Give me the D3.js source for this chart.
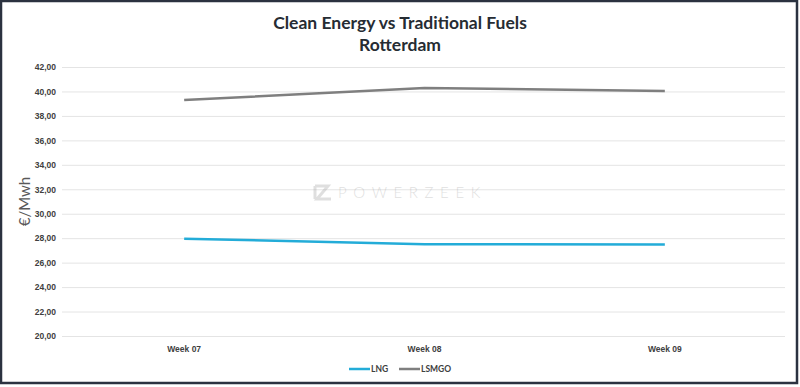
<!DOCTYPE html>
<head>
    <script src="https://d3js.org/d3.v7.min.js"></script>
    <style>
        body {margin: 0; background: #fff;}
        svg {display: block; font-family: Lato, "Open Sans", sans-serif;}
        .tick text {font-size: 8.5px; font-weight: bold; fill: #404040;}
    </style>
</head>
<body>
</body>
<script>
  const weeks = ["Week 07", "Week 08", "Week 09"],
        lng = [27.96, 27.5, 27.49],
        lsmgo = [39.3, 40.28, 40.03],
        yTicks = d3.range(20, 42.01, 2);

  const width = 800,
        height = 387,
        margin = {top: 67, right: 15, bottom: 51, left: 64};

  const svg = d3.select("body").append("svg")
          .attr("width", width)
          .attr("height", height);

  svg.append("rect")
    .attr("x", 1).attr("y", 1)
    .attr("width", width - 4).attr("height", height - 5)
    .attr("fill", "#fff")
    .attr("stroke", "#2b3240")
    .attr("stroke-width", 2.5);

  const x = d3.scaleBand()
          .domain(weeks)
          .range([margin.left, width - margin.right]);

  const y = d3.scaleLinear()
          .domain([20, 42])
          .range([height - margin.bottom, margin.top]);

  // grid + y labels
  const yAxis = svg.append("g")
          .attr("transform", `translate(${ margin.left - 2 },0)`)
          .call(d3.axisLeft(y).tickValues(yTicks)
            .tickSize(-(width - margin.right - margin.left + 2))
            .tickPadding(6)
            .tickFormat(d => d3.format(".2f")(d).replace(".", ",")));
  yAxis.select(".domain").remove();
  yAxis.selectAll(".tick line").attr("stroke", "#e4e4e4");

  const xAxis = svg.append("g")
          .attr("transform", `translate(0,${ height - margin.bottom })`)
          .call(d3.axisBottom(x).tickSize(0).tickPadding(10));
  xAxis.select(".domain").remove();

  svg.append("text")
    .attr("transform", `translate(30,${ y(31) }) rotate(-90)`)
    .attr("text-anchor", "middle")
    .attr("font-size", 15)
    .attr("fill", "#595959")
    .text("€/Mwh");

  // watermark
  const wm = svg.append("g").attr("transform", `translate(314,192)`).attr("opacity", 0.3);
  wm.append("path")
    .attr("d", "M1,-6 h13 l-11,13 h14 M1,-6 v13")
    .attr("fill", "none").attr("stroke", "#999").attr("stroke-width", 3);
  wm.append("text")
    .attr("x", 24).attr("y", 6)
    .attr("font-size", 15)
    .attr("font-weight", 300)
    .attr("letter-spacing", 6.6)
    .attr("fill", "#999")
    .text("POWERZEEK");

  const line = d3.line()
          .x((d, i) => x(weeks[i]) + x.bandwidth() / 2)
          .y(d => y(d));

  const series = [
    {name: "LNG", values: lng, color: "#23acd8"},
    {name: "LSMGO", values: lsmgo, color: "#7f7f7f"}
  ];

  svg.selectAll(".series")
    .data(series)
    .enter().append("path")
    .attr("d", d => line(d.values))
    .attr("fill", "none")
    .attr("stroke", d => d.color)
    .attr("stroke-width", 2.5);

  // title
  svg.append("text")
    .attr("x", 400).attr("y", 29)
    .attr("text-anchor", "middle")
    .attr("font-size", 17.5).attr("font-weight", "bold")
    .attr("fill", "#262c33")
    .text("Clean Energy vs Traditional Fuels");
  svg.append("text")
    .attr("x", 400).attr("y", 51)
    .attr("text-anchor", "middle")
    .attr("font-size", 17.5).attr("font-weight", "bold")
    .attr("fill", "#262c33")
    .text("Rotterdam");

  // legend
  const legend = svg.append("g").attr("transform", "translate(349,369)");
  const items = legend.selectAll("g")
          .data(series)
          .enter().append("g")
          .attr("transform", (d, i) => `translate(${ i * 50 },0)`);
  items.append("line")
    .attr("x1", 0).attr("x2", 21)
    .attr("stroke", d => d.color)
    .attr("stroke-width", 2.5);
  items.append("text")
    .attr("x", 22).attr("y", 3)
    .attr("font-size", 8.5).attr("font-weight", "bold")
    .attr("fill", "#404040")
    .text(d => d.name);
</script>
